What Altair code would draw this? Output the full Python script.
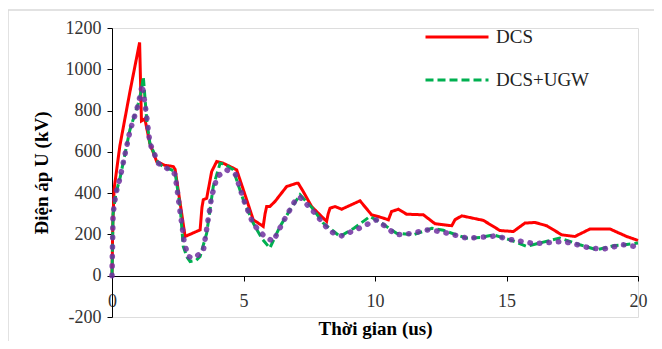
import altair as alt
import pandas as pd

# DCS (red)
t_dcs = [0, 0.03, 0.08, 0.3, 0.68, 1.05, 1.12, 1.25, 1.44, 1.7, 2.0, 2.33, 2.4, 2.78, 3.35, 3.42,
         3.47, 3.6, 3.79, 3.98, 4.23, 4.74, 5.12, 5.37, 5.75, 5.82, 5.88, 6.0, 6.2, 6.64, 7.02,
         7.08, 7.27, 7.59, 8.16, 8.22, 8.29, 8.48, 8.73, 9.43, 9.87, 10.19, 10.51, 10.63, 10.89,
         11.2, 11.84, 12.28, 12.92, 13.04, 13.3, 14.12, 14.75, 15.26, 15.7, 16.08, 16.53, 17.1,
         17.6, 18.17, 18.94, 19.57, 20.0]
u_dcs = [0, 250, 420, 630, 890, 1130, 750, 760, 640, 553, 535, 529, 515, 190, 222, 330,
         368, 375, 505, 553, 545, 513, 368, 271, 239, 300, 335, 335, 360, 432, 448,
         448, 408, 335, 263, 300, 327, 335, 322, 363, 295, 284, 271, 311, 322,
         298, 295, 252, 242, 271, 290, 268, 219, 214, 255, 258, 242, 198,
         190, 226, 226, 190, 171]

# DCS+UGW (green dashed)
t_ugw = [0, 0.04, 0.15, 0.3, 0.68, 1.0, 1.12, 1.19, 1.32, 1.44, 1.76, 2.0, 2.27, 2.4, 2.59, 2.71,
         2.85, 2.97, 3.2, 3.35, 3.6, 3.85, 4.11, 4.3, 4.61, 4.99, 5.37, 5.7, 6.0, 6.39, 6.77,
         7.15, 7.6, 8.03, 8.67, 9.2, 9.81, 10.3, 10.82, 11.46, 12.16, 12.6, 13.1, 13.49, 14.0,
         14.5, 15.1, 15.77, 16.15, 17.03, 17.79, 18.43, 19.06, 19.5, 20.0]
u_ugw = [0, 300, 400, 470, 706, 835, 900, 964, 755, 642, 545, 525, 513, 500, 335, 142,
         90, 69, 75, 93, 206, 432, 545, 540, 513, 368, 255, 180, 134, 239, 319,
         392, 330, 255, 190, 230, 287, 250, 206, 198, 230, 220, 198, 182, 185,
         198, 175, 142, 155, 182, 150, 126, 145, 150, 158]

# third series (purple dotted, not in legend)
t_pur = [0, 0.04, 0.15, 0.3, 0.68, 1.0, 1.15, 1.3, 1.44, 1.76, 2.0, 2.27, 2.4, 2.6, 2.75,
         2.9, 3.1, 3.47, 3.79, 4.0, 4.36, 4.7, 5.0, 5.37, 5.8, 6.13, 6.5, 7.02, 7.15, 7.6,
         8.29, 8.73, 9.4, 10.06, 10.8, 11.4, 11.97, 12.5, 13.49, 14.0, 14.6, 15.07, 16.08,
         17.16, 17.7, 18.17, 18.68, 19.44, 19.88, 20.0]
u_pur = [0, 300, 400, 470, 700, 830, 925, 790, 642, 545, 525, 510, 490, 300, 160,
         93, 85, 118, 384, 480, 513, 490, 370, 250, 190, 166, 260, 376, 380, 320,
         214, 193, 230, 271, 198, 205, 222, 214, 182, 186, 193, 177, 155,
         166, 150, 134, 129, 150, 142, 140]

series_names = ["DCS", "DCS+UGW"]
colors = ["#FF0000", "#00B050"]
purple = "#7030A0"

df_main = pd.concat([
    pd.DataFrame({"t": t_dcs, "u": u_dcs, "s": "DCS"}),
    pd.DataFrame({"t": t_ugw, "u": u_ugw, "s": "DCS+UGW"}),
])
df_pur = pd.DataFrame({"t": t_pur, "u": u_pur})

serif = "Liberation Serif"
x_ticks = [0, 5, 10, 15, 20]
y_ticks = [-200, 0, 200, 400, 600, 800, 1000, 1200]

W, H = 526, 289
x_scale = alt.Scale(domain=[0, 20], nice=False)
y_scale = alt.Scale(domain=[-200, 1200], nice=False)

x_enc = alt.X("t:Q", scale=x_scale,
              axis=alt.Axis(values=x_ticks, title="Thời gian (us)", grid=False,
                            labelExpr="toString(datum.value)",
                            offset=-round(H * 200 / 1400), domainColor="black",
                            tickColor="black", tickSize=5, labelPadding=11, labelFlush=False,
                            titlePadding=9, labelFontSize=18, titleFontSize=19,
                            labelFont=serif, titleFont=serif, titleFontWeight="bold",
                            labelColor="#333333", titleColor="black"))
y_enc = alt.Y("u:Q", scale=y_scale,
              axis=alt.Axis(values=y_ticks, title="Điện áp U (kV)", grid=False,
                            labelExpr="toString(datum.value)",
                            domainColor="black", tickColor="black", tickSize=5,
                            labelPadding=6, titlePadding=14, labelFontSize=18,
                            titleFontSize=19, labelFont=serif, titleFont=serif,
                            titleFontWeight="bold", labelColor="#333333",
                            titleColor="black"))

frame = alt.Chart(pd.DataFrame({"a": [0]})).mark_rect(
    fill=None, stroke="#D9D9D9", strokeWidth=1.5
).encode(x=alt.value(-104), x2=alt.value(700), y=alt.value(-18), y2=alt.value(400))

lines = alt.Chart(df_main).mark_line(strokeWidth=3).encode(
    x=x_enc, y=y_enc,
    color=alt.Color("s:N", scale=alt.Scale(domain=series_names, range=colors),
                    legend=alt.Legend(title=None, orient="none", legendX=312, legendY=-24,
                                      symbolType="stroke", symbolSize=3969,
                                      symbolStrokeWidth=3, labelFont=serif,
                                      labelFontSize=19, labelColor="#222222",
                                      labelOffset=6, rowPadding=-45)),
    strokeDash=alt.StrokeDash("s:N", scale=alt.Scale(domain=series_names,
                                                      range=[[1, 0], [8, 4]]), legend=None),
)

dots = alt.Chart(df_pur).mark_line(
    strokeWidth=5.5, color=purple, strokeDash=[0.5, 9], strokeCap="round", opacity=0.85
).encode(x="t:Q", y="u:Q")

chart = alt.layer(frame, lines, dots).properties(
    width=W, height=H,
    autosize=alt.AutoSizeParams(type="none"),
    padding={"left": 104, "top": 20, "right": 16, "bottom": 24},
).configure_view(stroke=None).configure(background="white", font=serif)

chart.save("out.html", embed_options={"renderer": "svg", "actions": False})
